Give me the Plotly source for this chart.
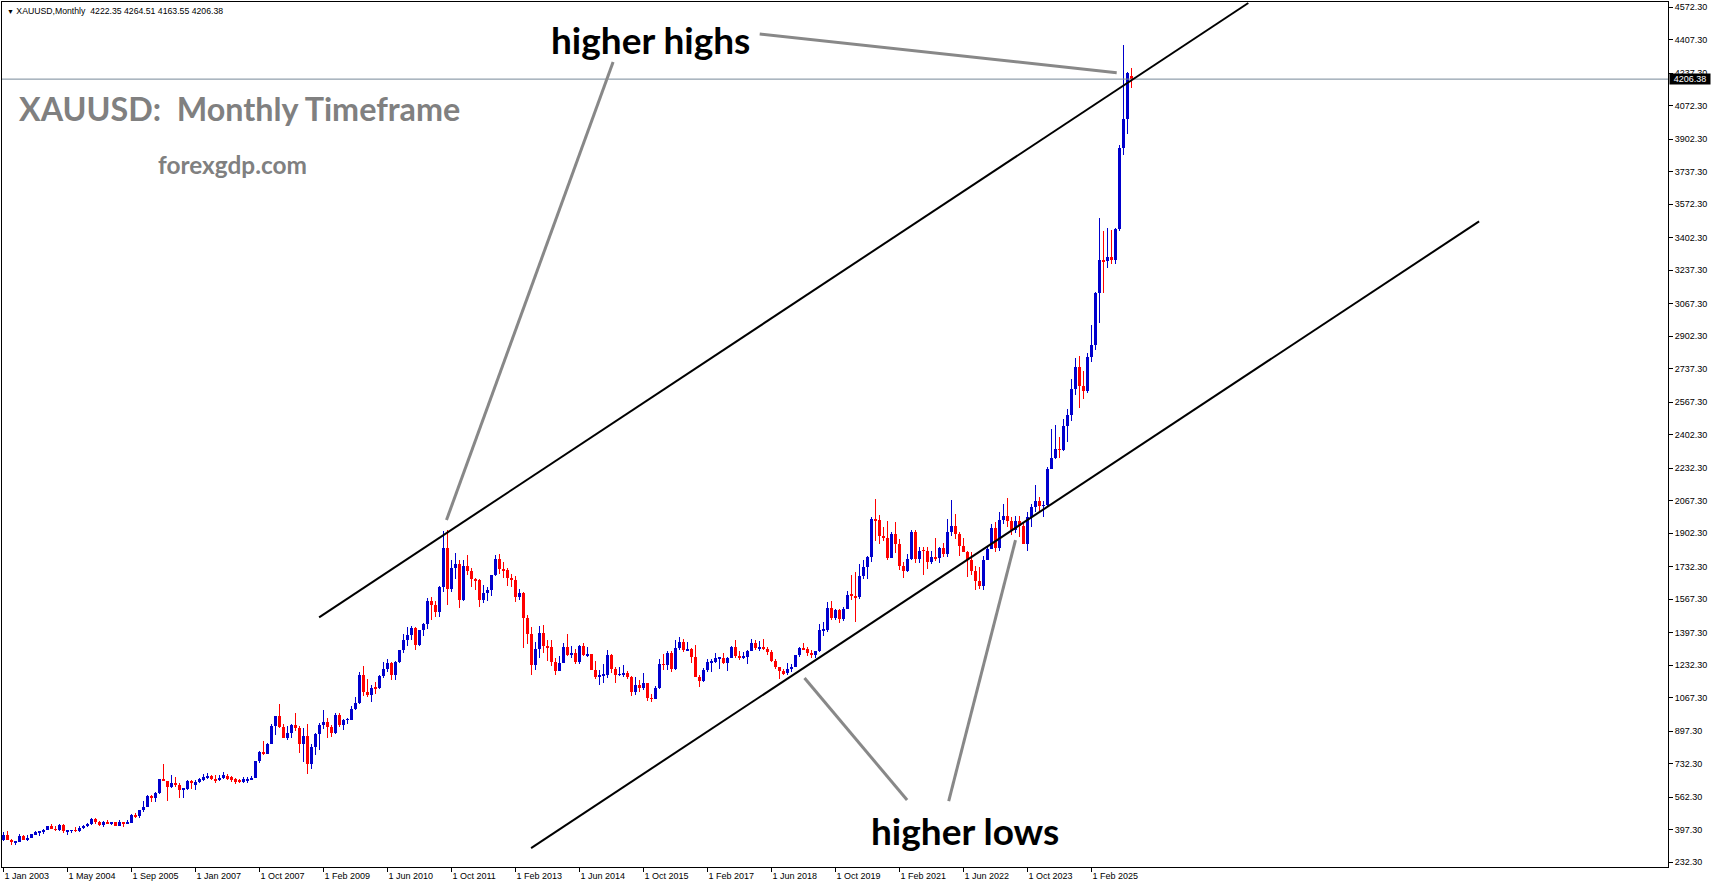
import plotly.graph_objects as go

# ---------------- data ----------------
x_tick_pos = [0, 16, 32, 48, 64, 80, 96, 112, 128, 144, 160, 176, 192, 208, 224, 240, 256, 272]
x_tick_text = ["1 Jan 2003", "1 May 2004", "1 Sep 2005", "1 Jan 2007", "1 Oct 2007", "1 Feb 2009",
               "1 Jun 2010", "1 Oct 2011", "1 Feb 2013", "1 Jun 2014", "1 Oct 2015", "1 Feb 2017",
               "1 Jun 2018", "1 Oct 2019", "1 Feb 2021", "1 Jun 2022", "1 Oct 2023", "1 Feb 2025"]
y_ticks = [4572.30, 4407.30, 4237.30, 4072.30, 3902.30, 3737.30, 3572.30, 3402.30, 3237.30, 3067.30,
           2902.30, 2737.30, 2567.30, 2402.30, 2232.30, 2067.30, 1902.30, 1732.30, 1567.30, 1397.30,
           1232.30, 1067.30, 897.30, 732.30, 562.30, 397.30, 232.30]

opens = [
    343, 368, 347, 334, 337, 364, 346, 354, 375, 384, 386, 397,            # 2003
    416, 400, 396, 423, 388, 394, 395, 391, 408, 416, 428, 453,            # 2004
    438, 422, 435, 428, 435, 415, 435, 429, 433, 473, 465, 495,            # 2005
    513, 569, 556, 583, 654, 643, 613, 633, 624, 599, 604, 646,            # 2006
    622, 640, 648, 660, 670, 656, 650, 660, 672, 664, 654, 650, 638, 642, 654, 662,  # 2007 bars
    744, 789, 783,                                                          # Oct-Dec 2007
    834, 923, 972, 917, 864, 886, 929, 913, 833, 871, 730, 815,            # 2008
    882, 927, 942, 916, 888, 979, 927, 954, 955, 1008, 1040, 1183,         # 2009
    1097, 1081, 1118, 1114, 1179, 1213, 1244, 1181, 1248, 1307, 1358, 1386,  # 2010
    1421, 1332, 1409, 1439, 1556, 1536, 1500, 1628, 1826, 1620, 1723, 1746,  # 2011
    1564, 1737, 1710, 1669, 1664, 1561, 1598, 1615, 1691, 1772, 1719, 1713,  # 2012
    1675, 1663, 1579, 1596, 1472, 1392, 1234, 1313, 1396, 1327, 1323, 1250,  # 2013
    1202, 1244, 1326, 1284, 1296, 1250, 1327, 1282, 1287, 1208, 1171, 1182,  # 2014
    1184, 1283, 1213, 1183, 1184, 1190, 1172, 1095, 1133, 1115, 1142, 1064,  # 2015
    1061, 1118, 1238, 1234, 1293, 1215, 1321, 1351, 1309, 1316, 1272, 1173,  # 2016
    1151, 1210, 1248, 1249, 1268, 1269, 1242, 1269, 1322, 1280, 1271, 1275,  # 2017
    1303, 1345, 1318, 1325, 1315, 1298, 1252, 1224, 1201, 1192, 1214, 1222,  # 2018
    1282, 1321, 1313, 1292, 1284, 1305, 1409, 1413, 1520, 1472, 1513, 1464,  # 2019
    1517, 1589, 1585, 1577, 1686, 1730, 1781, 1975, 1968, 1886, 1879, 1776,  # 2020
    1898, 1847, 1734, 1708, 1769, 1906, 1770, 1814, 1813, 1757, 1783, 1774,  # 2021
    1829, 1797, 1909, 1937, 1897, 1837, 1807, 1766, 1711, 1661, 1633, 1768,  # 2022
    1824, 1928, 1826, 1969, 1990, 1962, 1919, 1965, 1940, 1849, 1983, 2036,  # 2023
    2063, 2040, 2044, 2230, 2286, 2327, 2326, 2447, 2503, 2634, 2744, 2650,  # 2024
    2625, 2798, 2858, 3123, 3290, 3282, 3303, 3290, 3448, 3858, 4003, 4222.35,  # 2025
]
highs = [
    383, 389, 352, 341, 374, 371, 368, 377, 392, 391, 400, 417,
    427, 418, 428, 428, 396, 398, 410, 417, 420, 432, 456, 457,
    440, 439, 448, 438, 437, 444, 437, 448, 476, 480, 497, 541,
    572, 574, 588, 655, 730, 645, 677, 664, 633, 606, 650, 650,
    650, 662, 678, 684, 676, 674, 676, 688, 680, 672, 660, 656, 664, 666, 668, 748,
    794, 845, 839,
    932, 975, 1033, 935, 921, 934, 988, 921, 913, 935, 830, 887,
    937, 1007, 962, 926, 987, 990, 960, 966, 1025, 1070, 1195, 1227,
    1162, 1129, 1146, 1180, 1249, 1265, 1246, 1251, 1311, 1388, 1424, 1432,
    1424, 1412, 1447, 1575, 1577, 1560, 1632, 1911, 1920, 1764, 1803, 1764,
    1764, 1791, 1724, 1677, 1667, 1641, 1631, 1692, 1790, 1796, 1755, 1723,
    1697, 1684, 1617, 1605, 1487, 1424, 1348, 1433, 1434, 1361, 1361, 1267,
    1280, 1345, 1392, 1331, 1315, 1332, 1345, 1323, 1291, 1255, 1209, 1239,
    1307, 1287, 1224, 1224, 1232, 1205, 1175, 1170, 1157, 1191, 1143, 1088,
    1128, 1263, 1287, 1304, 1304, 1362, 1375, 1367, 1352, 1317, 1337, 1180,
    1220, 1264, 1261, 1295, 1270, 1296, 1274, 1331, 1358, 1306, 1299, 1310,
    1366, 1361, 1356, 1365, 1326, 1309, 1265, 1224, 1214, 1243, 1237, 1284,
    1326, 1347, 1324, 1310, 1306, 1439, 1452, 1555, 1557, 1517, 1515, 1525,
    1611, 1689, 1704, 1748, 1765, 1786, 1984, 2075, 1992, 1933, 1966, 1907,
    1959, 1872, 1755, 1798, 1916, 1917, 1834, 1832, 1834, 1814, 1877, 1831,
    1853, 1974, 2070, 1998, 1910, 1879, 1814, 1808, 1735, 1730, 1786, 1833,
    1949, 1959, 2009, 2049, 2079, 1983, 1987, 1987, 1953, 2009, 2052, 2145,
    2088, 2066, 2236, 2431, 2450, 2388, 2483, 2531, 2685, 2790, 2801, 2726,
    2817, 2956, 3128, 3500, 3435, 3452, 3439, 3453, 3872, 4381, 4245, 4264.51,
]
lows = [
    342, 345, 320, 319, 337, 343, 340, 353, 368, 366, 376, 397,
    399, 391, 392, 381, 372, 381, 384, 387, 400, 410, 423, 428,
    418, 410, 424, 422, 414, 414, 412, 425, 431, 458, 456, 488,
    511, 538, 537, 580, 643, 543, 610, 612, 560, 557, 600, 606,
    600, 632, 642, 654, 648, 636, 644, 656, 648, 640, 630, 632, 632, 636, 650, 658,
    735, 776, 781,
    830, 880, 915, 860, 851, 860, 900, 786, 740, 681, 706, 775,
    802, 910, 865, 866, 883, 920, 905, 934, 952, 1004, 1035, 1077,
    1072, 1045, 1088, 1112, 1166, 1195, 1155, 1157, 1243, 1295, 1330, 1360,
    1309, 1329, 1381, 1417, 1462, 1478, 1478, 1603, 1535, 1601, 1667, 1523,
    1560, 1688, 1627, 1613, 1527, 1549, 1558, 1584, 1686, 1694, 1672, 1635,
    1627, 1555, 1563, 1321, 1338, 1180, 1207, 1270, 1294, 1251, 1226, 1180,
    1200, 1241, 1277, 1268, 1240, 1240, 1281, 1272, 1206, 1160, 1131, 1142,
    1168, 1191, 1142, 1175, 1170, 1163, 1077, 1080, 1098, 1106, 1052, 1046,
    1059, 1111, 1208, 1208, 1199, 1207, 1310, 1301, 1302, 1241, 1171, 1122,
    1147, 1199, 1195, 1241, 1214, 1236, 1205, 1267, 1271, 1260, 1264, 1236,
    1302, 1307, 1303, 1310, 1282, 1246, 1211, 1160, 1180, 1182, 1196, 1221,
    1276, 1310, 1281, 1266, 1267, 1301, 1382, 1400, 1459, 1459, 1445, 1454,
    1515, 1563, 1451, 1567, 1670, 1671, 1757, 1863, 1849, 1860, 1764, 1775,
    1803, 1717, 1677, 1705, 1765, 1751, 1751, 1688, 1721, 1746, 1759, 1753,
    1780, 1782, 1890, 1872, 1787, 1805, 1681, 1688, 1615, 1617, 1616, 1765,
    1823, 1805, 1809, 1950, 1932, 1893, 1903, 1885, 1846, 1810, 1931, 2010,
    2002, 1985, 2039, 2228, 2277, 2286, 2319, 2364, 2471, 2604, 2536, 2583,
    2614, 2772, 2833, 2970, 3121, 3247, 3268, 3268, 3436, 3820, 3930, 4163.55,
]
closes = [
    368, 347, 334, 337, 364, 346, 354, 375, 384, 386, 397, 416,
    400, 396, 423, 388, 395, 395, 391, 408, 416, 428, 453, 438,
    422, 435, 428, 435, 415, 435, 429, 433, 473, 465, 495, 513,
    569, 556, 583, 654, 643, 613, 633, 624, 599, 604, 646, 632,
    640, 652, 664, 670, 656, 648, 662, 674, 656, 648, 640, 640, 654, 656, 662, 744,
    789, 783, 834,
    923, 972, 917, 864, 886, 929, 913, 833, 871, 730, 815, 882,
    927, 942, 916, 888, 979, 927, 954, 955, 1008, 1040, 1183, 1097,
    1081, 1118, 1114, 1179, 1213, 1244, 1181, 1248, 1307, 1358, 1386, 1421,
    1332, 1409, 1439, 1556, 1536, 1500, 1628, 1826, 1620, 1723, 1746, 1564,
    1737, 1710, 1669, 1664, 1561, 1598, 1615, 1691, 1772, 1719, 1713, 1675,
    1663, 1579, 1596, 1472, 1392, 1234, 1313, 1396, 1327, 1323, 1250, 1202,
    1244, 1326, 1284, 1296, 1250, 1327, 1282, 1287, 1208, 1171, 1182, 1184,
    1283, 1213, 1183, 1184, 1190, 1172, 1095, 1133, 1115, 1142, 1064, 1061,
    1118, 1238, 1234, 1293, 1215, 1321, 1351, 1309, 1316, 1272, 1173, 1151,
    1210, 1248, 1249, 1268, 1269, 1242, 1269, 1322, 1280, 1271, 1275, 1303,
    1345, 1318, 1325, 1315, 1298, 1252, 1224, 1201, 1192, 1214, 1222, 1282,
    1321, 1313, 1292, 1284, 1305, 1409, 1413, 1520, 1472, 1513, 1464, 1517,
    1589, 1585, 1577, 1686, 1730, 1781, 1975, 1968, 1886, 1879, 1776, 1898,
    1847, 1734, 1708, 1769, 1906, 1770, 1814, 1813, 1757, 1783, 1774, 1829,
    1797, 1909, 1937, 1897, 1837, 1807, 1766, 1711, 1661, 1633, 1768, 1824,
    1928, 1826, 1969, 1990, 1962, 1919, 1965, 1940, 1849, 1983, 2036, 2063,
    2040, 2044, 2230, 2286, 2327, 2326, 2447, 2503, 2634, 2744, 2650, 2625,
    2798, 2858, 3123, 3288, 3282, 3303, 3290, 3448, 3858, 4003, 4239, 4206.38,
]

# drawn objects (bar index, price)
upper_channel_x = [78.9, 311.2]
upper_channel_y = [1475.0, 4592.6]
lower_channel_x = [131.9, 368.9]
lower_channel_y = [303.7, 3484.3]
pointer_lines = [
    ([152.4, 110.75], [4293.2, 1968.8]),
    ([189.05, 278.3], [4435.3, 4238.9]),
    ([225.9, 200.25], [547.8, 1167.0]),
    ([236.3, 253.0], [542.7, 1867.3]),
]
symbol = "XAUUSD"
timeframe = "Monthly"

# ---------------- figure ----------------
W, H = 1714, 888
ML, MR, MT, MB = 2, 46, 2, 21
PW, PH = W - ML - MR, H - MT - MB

def pxx(px):
    return (px - ML) / PW

def pxy(py):
    return (MT + PH - py) / PH

BULL = "#0000CD"
BEAR = "#FF0000"
n = len(closes)
idx = list(range(n))
colors = [BULL if c >= o else BEAR for o, c in zip(opens, closes)]

fig = go.Figure()
fig.add_trace(go.Bar(
    x=idx, y=[h - l for h, l in zip(highs, lows)], base=lows, width=0.25,
    marker=dict(color=colors, line=dict(width=0)), hoverinfo="skip"))
fig.add_trace(go.Bar(
    x=idx, y=[max(abs(c - o), 0.5) for o, c in zip(opens, closes)],
    base=[min(o, c) for o, c in zip(opens, closes)], width=0.75,
    marker=dict(color=colors, line=dict(width=0)), hoverinfo="skip"))

shapes = []
shapes.append(dict(type="line", xref="paper", yref="y", x0=0, x1=1,
                   y0=closes[-1], y1=closes[-1], line=dict(color="#778899", width=1)))
shapes.append(dict(type="line", xref="x", yref="y", x0=upper_channel_x[0], x1=upper_channel_x[1],
                   y0=upper_channel_y[0], y1=upper_channel_y[1], line=dict(color="black", width=2)))
shapes.append(dict(type="line", xref="x", yref="y", x0=lower_channel_x[0], x1=lower_channel_x[1],
                   y0=lower_channel_y[0], y1=lower_channel_y[1], line=dict(color="black", width=2)))
for xs, ys in pointer_lines:
    shapes.append(dict(type="line", xref="x", yref="y", x0=xs[0], x1=xs[1], y0=ys[0], y1=ys[1],
                       line=dict(color="#888888", width=3)))

nb = "\u00a0"
header = (f"<span style='font-size:7px'>▼</span> {symbol},{timeframe}{nb}{nb}"
          f"{opens[-1]:.2f} {highs[-1]:.2f} {lows[-1]:.2f} {closes[-1]:.2f}")

annotations = [
    dict(text=header, xref="paper", yref="paper", x=pxx(5), y=pxy(11), xanchor="left", yanchor="middle",
         showarrow=False, font=dict(family="Liberation Sans", size=8.7, color="black")),
    dict(text="higher highs", xref="paper", yref="paper", x=pxx(650), y=pxy(39), xanchor="center",
         yanchor="middle", showarrow=False, font=dict(family="Lato", size=37, color="black", weight="bold")),
    dict(text="higher lows", xref="paper", yref="paper", x=pxx(965), y=pxy(830), xanchor="center",
         yanchor="middle", showarrow=False, font=dict(family="Lato", size=37, color="black", weight="bold")),
    dict(text=f"{symbol}:{nb}{nb}Monthly Timeframe", xref="paper", yref="paper", x=pxx(17), y=pxy(108),
         xanchor="left", yanchor="middle", showarrow=False,
         font=dict(family="Lato", size=32.3, color="#808080", weight="bold")),
    dict(text="forexgdp.com", xref="paper", yref="paper", x=pxx(156), y=pxy(164), xanchor="left",
         yanchor="middle", showarrow=False, font=dict(family="Lato", size=24.4, color="#808080", weight="bold")),
    dict(text=f"{closes[-1]:.2f}", xref="paper", yref="y", x=pxx(1690), y=closes[-1], xanchor="center",
         yanchor="middle", showarrow=False, bgcolor="black", width=40, height=10, borderpad=0,
         font=dict(family="Liberation Sans", size=9, color="white")),
]

fig.update_layout(
    width=W, height=H, margin=dict(l=ML, r=MR, t=MT, b=MB, pad=0),
    paper_bgcolor="white", plot_bgcolor="white", showlegend=False,
    barmode="overlay", bargap=0, shapes=shapes, annotations=annotations,
)
fig.update_xaxes(
    range=[-0.375, (PW - 1.5) / 4], tickmode="array", tickvals=x_tick_pos, ticktext=x_tick_text,
    ticks="outside", ticklen=4, tickcolor="black", tickwidth=1, showline=True, linecolor="black",
    linewidth=1, mirror=True, showgrid=False, zeroline=False, ticklabelposition="outside right",
    tickfont=dict(family="Liberation Sans", size=9, color="black"), fixedrange=True,
)
fig.update_yaxes(
    side="right", range=[207.8, 4597.7], tickmode="array", tickvals=y_ticks,
    ticktext=[f"{v:.2f}" for v in y_ticks], ticks="outside", ticklen=4, tickcolor="black", tickwidth=1,
    showline=True, linecolor="black", linewidth=1, mirror=True, showgrid=False, zeroline=False,
    tickfont=dict(family="Liberation Sans", size=9, color="black"), fixedrange=True,
)

fig.write_html("out.html")
